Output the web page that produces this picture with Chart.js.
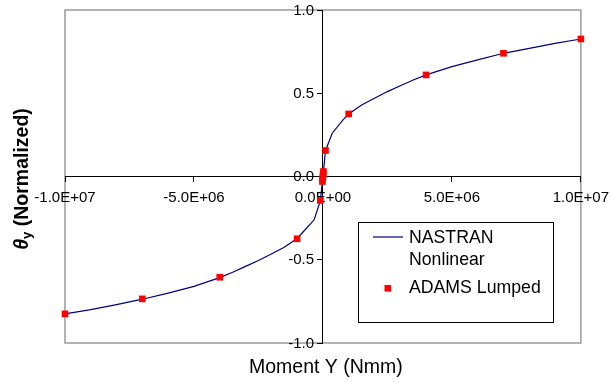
<!DOCTYPE html>
<html>
<head>
<meta charset="utf-8">
<script src="https://cdn.jsdelivr.net/npm/chart.js@4/dist/chart.umd.min.js"></script>
<style>
  html, body { margin: 0; padding: 0; background: #ffffff; }
  #wrap { width: 610px; height: 383px; }
</style>
</head>
<body>
<div id="wrap"><canvas id="c" width="610" height="383"></canvas></div>
<script>
// NASTRAN nonlinear response (moment in Nmm, rotation normalized)
const nastranMoment = [-1e7, -9e6, -8e6, -7e6, -6e6, -5e6, -4e6, -3.5e6, -3e6, -2.5e6, -2e6, -1.5e6, -1e6, -7.8e5, -3.4e5, -1e5, 0,
                       1e5, 3.6e5, 7.8e5, 1e6, 1.5e6, 2e6, 2.5e6, 3e6, 3.5e6, 4e6, 5e6, 6e6, 7e6, 8e6, 9e6, 1e7];
const nastranTheta  = [-0.825, -0.80, -0.77, -0.737, -0.70, -0.66, -0.607, -0.575, -0.54, -0.505, -0.465, -0.425, -0.372, -0.335, -0.26, -0.145, 0,
                       0.155, 0.26, 0.34, 0.376, 0.43, 0.47, 0.51, 0.545, 0.58, 0.61, 0.66, 0.70, 0.74, 0.77, 0.80, 0.826];

// ADAMS lumped model results
const adamsMoment = [-1e7, -7e6, -4e6, -1e6, -1e5, -2e4, -1e4, 0, 1e4, 2e4, 1e5, 1e6, 4e6, 7e6, 1e7];
const adamsTheta  = [-0.825, -0.735, -0.605, -0.374, -0.144, -0.03, -0.015, 0, 0.015, 0.03, 0.156, 0.376, 0.61, 0.74, 0.826];

const xTicks = [-1e7, -5e6, 0, 5e6, 1e7];
const yTicks = [-1, -0.5, 0, 0.5, 1];

const seriesNames = [['NASTRAN', 'Nonlinear'], ['ADAMS Lumped']];
const xTitle = 'Moment Y (Nmm)';
const yTitleSymbol = 'θ';
const yTitleSub = 'y';
const yTitleRest = ' (Normalized)';

const FONT = '"Liberation Sans", Arial, Helvetica, sans-serif';
const lineColor = '#000080';
const markColor = '#ff0000';

function sci(v) {
  if (v === 0) return '0.0E+00';
  const e = Math.floor(Math.log10(Math.abs(v)) + 1e-9);
  const m = v / Math.pow(10, e);
  return m.toFixed(1) + 'E' + (e < 0 ? '-' : '+') + String(Math.abs(e)).padStart(2, '0');
}
const yLabel = v => v.toFixed(1);

const toPoints = (xs, ys) => xs.map((x, i) => ({ x: x, y: ys[i] }));

// plot frame, y tick labels, axis titles and the boxed legend
const decorations = {
  id: 'decorations',
  beforeDraw(chart) {
    const { ctx, chartArea: a } = chart;
    ctx.save();
    ctx.fillStyle = '#ffffff';
    ctx.fillRect(0, 0, chart.width, chart.height);
    ctx.strokeStyle = '#9a9a9a';
    ctx.lineWidth = 1.5;
    ctx.strokeRect(a.left, a.top, a.right - a.left, a.bottom - a.top);
    ctx.restore();
  },
  afterDraw(chart) {
    const { ctx, chartArea: a } = chart;
    const xs = chart.scales.x, ys = chart.scales.y;
    ctx.save();
    ctx.fillStyle = '#000000';

    // y tick labels, set left of the centred vertical axis
    const axisX = Math.round(xs.getPixelForValue(0));
    ctx.font = '15px ' + FONT;
    ctx.textAlign = 'right';
    ctx.textBaseline = 'middle';
    ys.ticks.forEach(t => {
      ctx.fillText(yLabel(t.value), axisX - 9, ys.getPixelForValue(t.value) + 0.5);
    });

    // x title
    ctx.font = '19.5px ' + FONT;
    ctx.textAlign = 'center';
    ctx.textBaseline = 'middle';
    ctx.fillText(xTitle, (a.left + a.right) / 2 + 3, 368);

    // y title, rotated, with subscript
    ctx.save();
    ctx.translate(21, 179);
    ctx.rotate(-Math.PI / 2);
    ctx.textAlign = 'left';
    ctx.textBaseline = 'alphabetic';
    const f1 = 'italic bold 19.5px ' + FONT;
    const f2 = 'bold 13px ' + FONT;
    const f3 = 'bold 19.5px ' + FONT;
    ctx.font = f1; const w1 = ctx.measureText(yTitleSymbol).width;
    ctx.font = f2; const w2 = ctx.measureText(yTitleSub).width;
    ctx.font = f3; const w3 = ctx.measureText(yTitleRest).width;
    let x = -(w1 + w2 + w3) / 2;
    const base = 7;
    ctx.font = f1; ctx.fillText(yTitleSymbol, x, base); x += w1;
    ctx.font = f2; ctx.fillText(yTitleSub, x, base + 3); x += w2;
    ctx.font = f3; ctx.fillText(yTitleRest, x, base);
    ctx.restore();

    // legend
    const bx = 358.5, by = 222.5, bw = 195, bh = 100;
    ctx.fillStyle = '#ffffff';
    ctx.fillRect(bx, by, bw, bh);
    ctx.strokeStyle = '#000000';
    ctx.lineWidth = 1;
    ctx.strokeRect(bx, by, bw, bh);

    const lineDs = chart.data.datasets[1];
    const markDs = chart.data.datasets[0];
    ctx.strokeStyle = lineDs.borderColor;
    ctx.lineWidth = 1.2;
    ctx.beginPath();
    ctx.moveTo(373, 237);
    ctx.lineTo(403, 237);
    ctx.stroke();

    ctx.fillStyle = markDs.backgroundColor;
    ctx.fillRect(384.5, 285, 6.6, 6.6);

    ctx.fillStyle = '#000000';
    ctx.font = '17.7px ' + FONT;
    ctx.textAlign = 'left';
    ctx.textBaseline = 'alphabetic';
    ctx.fillText(seriesNames[0][0], 409, 243);
    ctx.fillText(seriesNames[0][1], 409, 265);
    ctx.fillText(seriesNames[1][0], 409, 293);
    ctx.restore();
  }
};

new Chart(document.getElementById('c'), {
  type: 'scatter',
  data: {
    datasets: [
      {
        label: seriesNames[1].join(' '),
        data: toPoints(adamsMoment, adamsTheta),
        showLine: false,
        pointStyle: 'rect',
        pointRadius: 4.7,
        pointHoverRadius: 4.7,
        backgroundColor: markColor,
        borderColor: markColor,
        borderWidth: 0,
        clip: false,
        order: 0
      },
      {
        label: seriesNames[0].join(' '),
        data: toPoints(nastranMoment, nastranTheta),
        showLine: true,
        tension: 0,
        pointRadius: 0,
        pointHoverRadius: 0,
        borderColor: lineColor,
        borderWidth: 1.2,
        fill: false,
        clip: false,
        order: 1
      }
    ]
  },
  options: {
    responsive: false,
    animation: false,
    devicePixelRatio: 1,
    layout: { padding: { left: 65, right: 29, top: 10, bottom: 40 } },
    plugins: {
      legend: { display: false },
      tooltip: { enabled: false }
    },
    scales: {
      x: {
        type: 'linear',
        position: { y: 0 },
        min: -1e7,
        max: 1e7,
        afterBuildTicks: s => { s.ticks = xTicks.map(v => ({ value: v })); },
        ticks: {
          callback: v => sci(v),
          color: '#000000',
          font: { family: FONT, size: 15, lineHeight: 2.0 },
          padding: 1,
          maxRotation: 0,
          autoSkip: false
        },
        grid: { drawOnChartArea: false, drawTicks: true, tickLength: 5, color: '#000000', lineWidth: 1 },
        border: { display: true, color: '#000000', width: 1 }
      },
      y: {
        type: 'linear',
        position: { x: 0 },
        min: -1,
        max: 1,
        afterBuildTicks: s => { s.ticks = yTicks.map(v => ({ value: v })); },
        ticks: { display: false },
        grid: { drawOnChartArea: false, drawTicks: true, tickLength: 5, color: '#000000', lineWidth: 1 },
        border: { display: true, color: '#000000', width: 1 }
      }
    }
  },
  plugins: [decorations]
});
</script>
</body>
</html>
